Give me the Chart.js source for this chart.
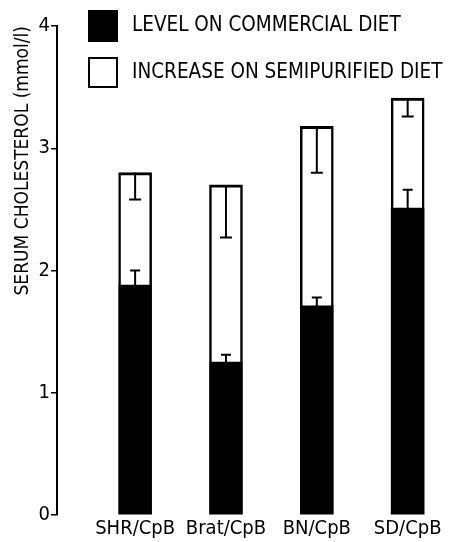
<!DOCTYPE html>
<html>
<head>
<meta charset="utf-8">
<script src="https://cdn.jsdelivr.net/npm/chart.js@4/dist/chart.umd.min.js"></script>
<style>
  html, body { margin: 0; padding: 0; background: #fff; }
  #wrap { width: 452px; height: 542px; }
</style>
</head>
<body>
<div id="wrap"><canvas id="c" width="452" height="542"></canvas></div>
<script>
// ---- data ----
const categories = ['SHR/CpB', 'Brat/CpB', 'BN/CpB', 'SD/CpB'];
const seriesLabels = ['LEVEL ON COMMERCIAL DIET', 'INCREASE ON SEMIPURIFIED DIET'];
const commercialLevel = [1.88, 1.25, 1.71, 2.51];
const semipurifiedIncrease = [0.92, 1.45, 1.47, 0.90];
const commercialError = [0.12, 0.06, 0.07, 0.15];      // drawn upward from commercial level
const semipurifiedError = [0.22, 0.43, 0.38, 0.15];    // drawn downward from total level
const yTicks = [0, 1, 2, 3, 4];

const FONT = "'DejaVu Sans Condensed', 'DejaVu Sans', sans-serif";

const errorBars = {
  id: 'errorBars',
  afterDatasetsDraw(chart) {
    const {ctx, scales: {x, y}} = chart;
    ctx.save();
    ctx.strokeStyle = '#000';
    ctx.lineWidth = 2;
    categories.forEach((_, i) => {
      const px = x.getPixelForValue(i);
      const b = commercialLevel[i];
      const y0 = y.getPixelForValue(b);
      const y1 = y.getPixelForValue(b + commercialError[i]);
      ctx.beginPath();
      ctx.moveTo(px, y0); ctx.lineTo(px, y1);
      ctx.moveTo(px - 5, y1); ctx.lineTo(px + 5, y1);
      ctx.stroke();
      const t = b + semipurifiedIncrease[i];
      const y2 = y.getPixelForValue(t);
      const y3 = y.getPixelForValue(t - semipurifiedError[i]);
      ctx.beginPath();
      ctx.moveTo(px, y2); ctx.lineTo(px, y3);
      ctx.moveTo(px - 6, y3); ctx.lineTo(px + 6, y3);
      ctx.stroke();
    });
    ctx.restore();
  }
};

const customLegend = {
  id: 'customLegend',
  afterDraw(chart) {
    const {ctx} = chart;
    ctx.save();
    const items = chart.data.datasets;
    const boxes = [{x: 88, y: 10, w: 30, h: 32}, {x: 89, y: 58, w: 28, h: 29}];
    items.forEach((ds, i) => {
      const bx = boxes[i];
      ctx.fillStyle = ds.backgroundColor;
      ctx.fillRect(bx.x, bx.y, bx.w, bx.h);
      if (i === 1) {
        ctx.strokeStyle = '#000';
        ctx.lineWidth = 2;
        ctx.strokeRect(bx.x, bx.y, bx.w, bx.h);
      }
      ctx.fillStyle = '#000';
      ctx.font = "20.5px " + FONT;
      ctx.textBaseline = 'middle';
      ctx.textAlign = 'left';
      ctx.fillText(ds.label, 132, bx.y + bx.h / 2);
    });
    ctx.restore();
  }
};

new Chart(document.getElementById('c'), {
  type: 'bar',
  data: {
    datasets: [
      {
        label: seriesLabels[0],
        data: commercialLevel.map((v, i) => ({x: i, y: v})),
        backgroundColor: '#000',
        borderWidth: 0,
        barThickness: 33
      },
      {
        label: seriesLabels[1],
        data: semipurifiedIncrease.map((v, i) => ({x: i, y: v})),
        backgroundColor: '#fff',
        borderColor: '#000',
        borderWidth: {top: 3, left: 2.5, right: 2.5, bottom: 0},
        borderSkipped: false,
        barThickness: 33
      }
    ]
  },
  options: {
    responsive: false,
    animation: false,
    devicePixelRatio: 1,
    layout: { padding: { top: 26, right: 8, bottom: 0, left: 0 } },
    plugins: { legend: { display: false }, tooltip: { enabled: false } },
    scales: {
      x: {
        type: 'linear',
        stacked: true,
        offset: false,
        min: -0.86,
        max: 3.4,
        afterBuildTicks: (s) => { s.ticks = categories.map((_, i) => ({value: i})); },
        afterFit: (s) => { s.height = 27; },
        grid: { display: false, drawTicks: false, offset: false },
        border: { display: false },
        ticks: {
          autoSkip: false,
          maxRotation: 0,
          padding: 2,
          color: '#000',
          font: { family: FONT, size: 20 },
          callback: (v) => categories[v] ?? ''
        }
      },
      y: {
        stacked: true,
        min: 0,
        max: 4,
        afterBuildTicks: (s) => { s.ticks = yTicks.map(v => ({value: v})); },
        afterFit: (s) => { s.width = 57; },
        grid: { display: true, drawOnChartArea: false, drawTicks: true, tickLength: 6, color: '#000', lineWidth: 1.5 },
        border: { display: true, color: '#000', width: 2 },
        ticks: { color: '#000', padding: 1, font: { family: FONT, size: 20 } },
        title: {
          display: true,
          text: 'SERUM CHOLESTEROL (mmol/l)',
          align: 'end',
          color: '#000',
          padding: { top: 12, bottom: 0 },
          font: { family: FONT, size: 19 }
        }
      }
    }
  },
  plugins: [errorBars, customLegend]
});
</script>
</body>
</html>
